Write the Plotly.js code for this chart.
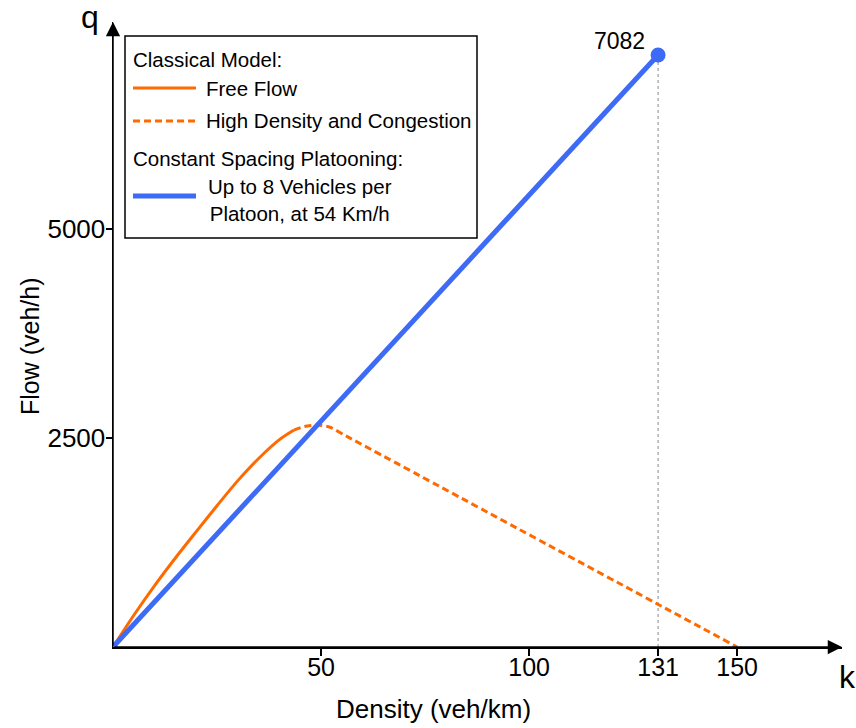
<!DOCTYPE html>
<html>
<head>
<meta charset="utf-8">
<script src="https://cdn.plot.ly/plotly-3.0.1.min.js"></script>
<style>html,body{margin:0;padding:0;background:#fff;}#chart{width:856px;height:728px;}</style>
</head>
<body>
<div id="chart"></div>
<script>
// ---- data ----
const freeFlowK = [0, 5, 10, 15, 20, 25, 30, 35, 40, 43.5];
const freeFlowQ = [0, 380, 735, 1065, 1380, 1690, 1990, 2255, 2480, 2595];
const congestionK = [43.5, 46, 49, 52, 56, 150];
const congestionQ = [2595, 2638, 2655, 2632, 2525, 0];
const platoonK = [0, 131];
const platoonQ = [0, 7082];
const xTickVals = [50, 100, 131, 150];
const yTickVals = [2500, 5000];
const xRangeMax = 175.2;
const yRangeMax = 7476;

const ORANGE = '#FF6A00';
const BLUE = '#3D6BF5';
const FONT = 'Liberation Sans, Arial, sans-serif';
const DASH = '7px,4px';

const kMax = platoonK[platoonK.length - 1];
const qMax = platoonQ[platoonQ.length - 1];

// plot area in pixels (for legend placement in paper coords)
const L = 113, R = 842, T = 22, B = 647;
const fx = px => (px - L) / (R - L);
const fy = py => (B - py) / (B - T);

const traces = [
  {x: [kMax, kMax], y: [0, qMax], mode: 'lines', line: {color: '#888', width: 1, dash: 'dot'}, hoverinfo: 'skip', showlegend: false},
  {x: freeFlowK, y: freeFlowQ, mode: 'lines', line: {color: ORANGE, width: 3, shape: 'spline', smoothing: 0.8}, name: 'Free Flow', showlegend: false},
  {x: congestionK, y: congestionQ, mode: 'lines', line: {color: ORANGE, width: 3, dash: DASH, shape: 'spline', smoothing: 0.6}, name: 'High Density and Congestion', showlegend: false},
  {x: platoonK, y: platoonQ, mode: 'lines', line: {color: BLUE, width: 5}, name: 'Platoon', showlegend: false},
  {x: [kMax], y: [qMax], mode: 'markers', marker: {color: BLUE, size: 15}, showlegend: false, hoverinfo: 'skip'}
];

const LEG_FONT = 20.5;
const legendItems = [
  {type: 'text', text: 'Classical Model:', y: 59},
  {type: 'line', text: 'Free Flow', y: 88, color: ORANGE, width: 3, dash: 'solid'},
  {type: 'line', text: 'High Density and Congestion', y: 121, color: ORANGE, width: 3, dash: DASH},
  {type: 'text', text: 'Constant Spacing Platooning:', y: 158},
  {type: 'line', text: 'Up to 8 Vehicles per<br>Platoon, at 54 Km/h', y: 196, textY: 200, color: BLUE, width: 5, dash: 'solid', center: true}
];

const shapes = [
  {type: 'rect', xref: 'paper', yref: 'paper', x0: fx(125), x1: fx(477), y0: fy(238), y1: fy(36),
   line: {color: '#000', width: 1.5}, fillcolor: '#fff', layer: 'above'}
];
const annotations = [
  // axis arrows
  {x: xRangeMax, y: 0, ax: 0, ay: 0, axref: 'x', ayref: 'y', xref: 'x', yref: 'y', text: '', showarrow: true,
   arrowhead: 2, arrowsize: 1.9, arrowwidth: 1.5, arrowcolor: '#000', standoff: 0},
  {x: 0, y: yRangeMax, ax: 0, ay: 0, axref: 'x', ayref: 'y', xref: 'x', yref: 'y', text: '', showarrow: true,
   arrowhead: 2, arrowsize: 1.9, arrowwidth: 1.5, arrowcolor: '#000', standoff: 0},
  {xref: 'paper', yref: 'paper', x: fx(90), y: fy(17), text: 'q', showarrow: false, xanchor: 'center', yanchor: 'middle',
   font: {family: FONT, size: 32, color: '#000'}},
  {xref: 'paper', yref: 'paper', x: fx(847), y: fy(677), text: 'k', showarrow: false, xanchor: 'center', yanchor: 'middle',
   font: {family: FONT, size: 32, color: '#000'}},
  {x: kMax, y: qMax, xref: 'x', yref: 'y', text: String(qMax), showarrow: false, xanchor: 'center', yanchor: 'middle',
   xshift: -39, yshift: 14, font: {family: FONT, size: 23, color: '#000'}},
  // axis titles
  {xref: 'paper', yref: 'paper', x: fx(433), y: fy(709), text: 'Density (veh/km)', showarrow: false, xanchor: 'center', yanchor: 'middle',
   font: {family: FONT, size: 26, color: '#000'}},
  {xref: 'paper', yref: 'paper', x: fx(30), y: fy(346), text: 'Flow (veh/h)', showarrow: false, xanchor: 'center', yanchor: 'middle',
   textangle: -90, font: {family: FONT, size: 25, color: '#000'}}
];
legendItems.forEach(it => {
  if (it.type === 'text') {
    annotations.push({xref: 'paper', yref: 'paper', x: fx(131), y: fy(it.y), text: it.text, showarrow: false,
      xanchor: 'left', yanchor: 'middle', font: {family: FONT, size: LEG_FONT, color: '#000'}});
  } else {
    shapes.push({type: 'line', xref: 'paper', yref: 'paper', x0: fx(133), x1: fx(196), y0: fy(it.y), y1: fy(it.y),
      line: {color: it.color, width: it.width, dash: it.dash}, layer: 'above'});
    if (it.center) {
      annotations.push({xref: 'paper', yref: 'paper', x: fx(300), y: fy(it.textY), text: it.text, showarrow: false,
        xanchor: 'center', yanchor: 'middle', align: 'center', font: {family: FONT, size: LEG_FONT, color: '#000'}});
    } else {
      annotations.push({xref: 'paper', yref: 'paper', x: fx(204), y: fy(it.y), text: it.text, showarrow: false,
        xanchor: 'left', yanchor: 'middle', font: {family: FONT, size: LEG_FONT, color: '#000'}});
    }
  }
});

const layout = {
  width: 856, height: 728,
  margin: {l: L, r: 856 - R, t: T, b: 728 - B},
  paper_bgcolor: '#fff', plot_bgcolor: '#fff',
  showlegend: false,
  font: {family: FONT, color: '#000'},
  xaxis: {range: [0, xRangeMax], showgrid: false, zeroline: false, showline: true, linecolor: '#000', linewidth: 1.5,
    tickmode: 'array', tickvals: xTickVals, ticktext: xTickVals.map(String), ticks: 'outside', ticklen: 7, tickwidth: 1.5,
    tickcolor: '#000', tickfont: {family: FONT, size: 25, color: '#000'}, ticklabelstandoff: -10},
  yaxis: {range: [0, yRangeMax], showgrid: false, zeroline: false, showline: true, linecolor: '#000', linewidth: 1.5,
    tickmode: 'array', tickvals: yTickVals, ticktext: yTickVals.map(String), ticks: 'outside', ticklen: 6, tickwidth: 1.5,
    tickcolor: '#000', tickfont: {family: FONT, size: 26, color: '#000'}, ticklabelstandoff: -5},
  shapes: shapes,
  annotations: annotations
};

Plotly.newPlot('chart', traces, layout, {displayModeBar: false, staticPlot: true});
</script>
</body>
</html>
